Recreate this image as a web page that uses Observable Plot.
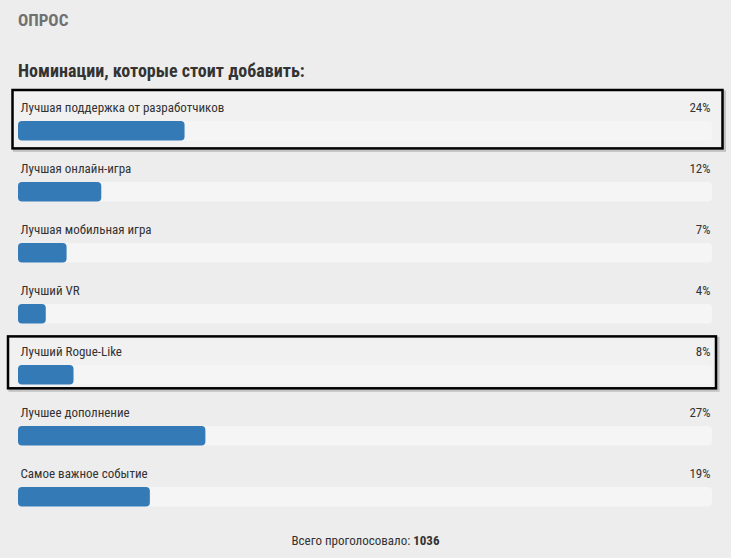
<!DOCTYPE html>
<html>
<head>
<meta charset="utf-8">
<script src="https://cdn.jsdelivr.net/npm/d3@7"></script>
<script src="https://cdn.jsdelivr.net/npm/@observablehq/plot@0.6"></script>
<style>
  html, body { margin: 0; padding: 0; background: #ededed; }
  body { width: 731px; height: 558px; position: relative; overflow: hidden;
         font-family: "Roboto Condensed", "Liberation Sans Narrow", "Roboto", sans-serif; color: #333; }
  #title { position: absolute; left: 18px; top: 12px; font-size: 17px; line-height: 17px; font-weight: bold; color: #707070; }
  #heading { position: absolute; left: 18px; top: 62px; font-size: 18px; line-height: 18px; font-weight: bold; color: #333; }
  #chart { position: absolute; left: 0; top: 84px; }
  #footer { position: absolute; left: 0; width: 731px; text-align: center; top: 534px; font-size: 13px; line-height: 13px; color: #333; }
</style>
</head>
<body>
<div id="title">ОПРОС</div>
<div id="heading">Номинации, которые стоит добавить:</div>
<div id="chart"></div>
<div id="footer">Всего проголосовало: <b>1036</b></div>
<script>
const categories = [
  "Лучшая поддержка от разработчиков",
  "Лучшая онлайн-игра",
  "Лучшая мобильная игра",
  "Лучший VR",
  "Лучший Rogue-Like",
  "Лучшее дополнение",
  "Самое важное событие"
];
const percents = [24, 12, 7, 4, 8, 27, 19];
const highlighted = ["Лучшая поддержка от разработчиков", "Лучший Rogue-Like"];

const rows = categories.map((c, i) => ({cat: c, pct: percents[i]}));
const box1 = rows.filter(d => d.cat === highlighted[0]);
const box2 = rows.filter(d => d.cat === highlighted[1]);

const font = '"Roboto Condensed", "Liberation Sans Narrow", "Roboto", sans-serif';

const chart = Plot.plot({
  width: 731,
  height: 440,
  marginLeft: 18,
  marginRight: 19,
  marginTop: 0,
  marginBottom: 0,
  x: {domain: [0, 100], axis: null},
  y: {domain: categories, range: [8, 436], padding: 0, axis: null},
  style: {background: "transparent", fontFamily: font, fontSize: "13px", color: "#333", overflow: "visible"},
  marks: [
    // highlight boxes (shadow, then box)
    Plot.barX(box1, {x1: () => 0, x2: () => 100, y: "cat", insetLeft: -5.5, insetRight: -10.5, insetTop: -3, insetBottom: 5.6,
      fill: "none", stroke: "#000", strokeOpacity: 0.18, strokeWidth: 3, dx: 2, dy: 2}),
    Plot.barX(box1, {x1: () => 0, x2: () => 100, y: "cat", insetLeft: -5.5, insetRight: -10.5, insetTop: -3, insetBottom: 5.6,
      fill: "#f1f1f1", stroke: "#000", strokeWidth: 2.5}),
    Plot.barX(box2, {x1: () => 0, x2: () => 100, y: "cat", insetLeft: -10, insetRight: -4, insetTop: -0.6, insetBottom: 9.7,
      fill: "none", stroke: "#000", strokeOpacity: 0.18, strokeWidth: 3, dx: 2, dy: 2}),
    Plot.barX(box2, {x1: () => 0, x2: () => 100, y: "cat", insetLeft: -10, insetRight: -4, insetTop: -0.6, insetBottom: 9.7,
      fill: "#f1f1f1", stroke: "#000", strokeWidth: 2.5}),
    // tracks
    Plot.barX(rows, {x1: () => 0, x2: () => 100, y: "cat", fill: "#f5f5f5", insetTop: 28, insetBottom: 13.6, rx: 4}),
    // values
    Plot.barX(rows, {x1: () => 0, x2: "pct", y: "cat", fill: "#337ab7", insetTop: 28, insetBottom: 13.6, rx: 4}),
    // labels
    Plot.text(rows, {x: () => 0, y: "cat", text: "cat", textAnchor: "start", lineAnchor: "bottom", dx: 2, dy: -12, fill: "#333"}),
    Plot.text(rows, {x: () => 100, y: "cat", text: d => d.pct + "%", textAnchor: "end", lineAnchor: "bottom", dx: -2, dy: -12, fill: "#333"})
  ]
});
document.getElementById("chart").appendChild(chart);
</script>
</body>
</html>
